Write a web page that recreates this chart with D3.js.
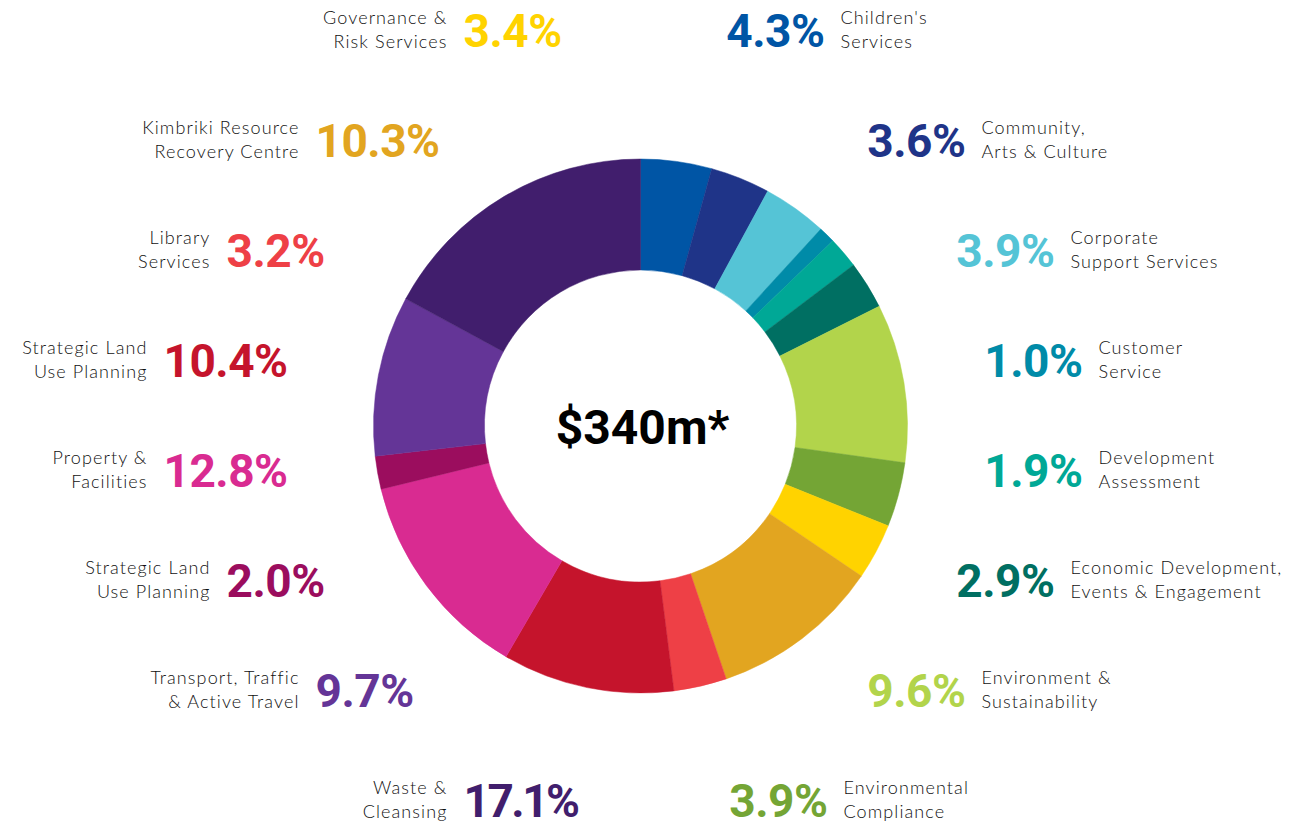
<!DOCTYPE html>
<html>
<head>
<meta charset="utf-8">
<script src="https://d3js.org/d3.v7.min.js"></script>
<style>
  body { margin: 0; background: #fff; }
</style>
</head>
<body>
<div id="chart"></div>
<script>
// slices, clockwise from 12 o'clock
var labels = [
  ["Children's", "Services"],
  ["Community,", "Arts & Culture"],
  ["Corporate", "Support Services"],
  ["Customer", "Service"],
  ["Development", "Assessment"],
  ["Economic Development,", "Events & Engagement"],
  ["Environment &", "Sustainability"],
  ["Environmental", "Compliance"],
  ["Governance &", "Risk Services"],
  ["Kimbriki Resource", "Recovery Centre"],
  ["Library", "Services"],
  ["Strategic Land", "Use Planning"],
  ["Property &", "Facilities"],
  ["Strategic Land", "Use Planning"],
  ["Transport, Traffic", "& Active Travel"],
  ["Waste &", "Cleansing"]
];
var values = [4.3, 3.6, 3.9, 1.0, 1.9, 2.9, 9.6, 3.9, 3.4, 10.3, 3.2, 10.4, 12.8, 2.0, 9.7, 17.1];
var colors = ["#0055a5", "#1f3488", "#55c4d6", "#008ba8", "#00a896", "#006f62",
              "#b2d44b", "#74a535", "#ffd300", "#e2a520", "#ee4046", "#c5142c",
              "#d92b91", "#9b0d5e", "#643597", "#411e6d"];
var total = "$340m*";

// label placement: right column top->bottom, left column bottom->top
var side = ["r","r","r","r","r","r","r","r","l","l","l","l","l","l","l","l"];
var row  = [0, 1, 2, 3, 4, 5, 6, 7, 0, 1, 2, 3, 4, 5, 6, 7];
var rowDx = [184, 325, 414, 442, 442, 414, 325, 187]; // right column, percent end
var rowDxL = [177, 325, 414, 477, 477, 414, 325, 177]; // left column, percent start

var W = 1295, H = 827;
var cx = 640.5, cy = 426, R = 267, r0 = 156;

var svg = d3.select("#chart").append("svg")
  .attr("width", W).attr("height", H);

var pie = d3.pie().sort(null).value(function(d){ return d; });
var arc = d3.arc().innerRadius(r0).outerRadius(R);

var g = svg.append("g").attr("transform", "translate(" + cx + "," + cy + ")");
g.selectAll("path").data(pie(values)).enter().append("path")
  .attr("d", arc)
  .attr("fill", function(d, i){ return colors[i]; })
  .attr("stroke", function(d, i){ return colors[i]; })
  .attr("stroke-width", 0.5);

g.append("text")
  .attr("text-anchor", "middle")
  .attr("x", 2)
  .attr("y", 18)
  .style("font-family", "Roboto, sans-serif")
  .style("font-weight", 700)
  .style("font-size", "48px")
  .attr("fill", "#000")
  .text(total);

var y0 = 29, rowStep = 110;
var gap = 16;

values.forEach(function(v, i){
  var yc = y0 + row[i] * rowStep;
  var lab = svg.append("g");
  var pct, txt;
  if (side[i] === "r") {
    var xe = cx + rowDx[row[i]];
    pct = lab.append("text").attr("x", xe).attr("text-anchor", "end");
    txt = lab.append("text").attr("x", xe + gap).attr("text-anchor", "start");
  } else {
    var xs = cx - rowDxL[row[i]];
    pct = lab.append("text").attr("x", xs).attr("text-anchor", "start");
    txt = lab.append("text").attr("x", xs - gap).attr("text-anchor", "end");
  }
  pct.attr("y", yc + 18)
    .style("font-family", "Roboto, sans-serif")
    .style("font-weight", 700)
    .style("font-size", "46px")
    .style("letter-spacing", v >= 17 ? "-2.5px" : "-0.5px")
    .attr("fill", colors[i])
    .text(v.toFixed(1) + "%");
  txt.style("font-family", "Lato, 'Open Sans', sans-serif")
    .style("font-weight", 300)
    .style("font-size", "18px")
    .style("letter-spacing", "1.1px")
    .attr("fill", "#111");
  txt.append("tspan").attr("x", txt.attr("x")).attr("y", yc - 5).text(labels[i][0]);
  txt.append("tspan").attr("x", txt.attr("x")).attr("y", yc + 19).text(labels[i][1]);
});
</script>
</body>
</html>
